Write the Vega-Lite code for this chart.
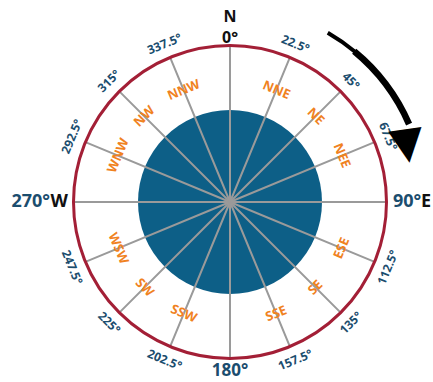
{
  "$schema": "https://vega.github.io/schema/vega-lite/v6.json",
  "width": 400,
  "height": 360,
  "padding": {"left": 30, "top": 22, "right": 3, "bottom": 0},
  "autosize": {"type": "none"},
  "background": "white",
  "config": {"view": {"stroke": null}},
  "datasets": {
    "dirs": [
      {"deg": 0, "dir": "N", "lab": "0°"},
      {"deg": 22.5, "dir": "NNE", "lab": "22.5°"},
      {"deg": 45, "dir": "NE", "lab": "45°"},
      {"deg": 67.5, "dir": "NEE", "lab": "67.5°"},
      {"deg": 90, "dir": "E", "lab": "90°"},
      {"deg": 112.5, "dir": "ESE", "lab": "112.5°"},
      {"deg": 135, "dir": "SE", "lab": "135°"},
      {"deg": 157.5, "dir": "SSE", "lab": "157.5°"},
      {"deg": 180, "dir": "S", "lab": "180°"},
      {"deg": 202.5, "dir": "SSW", "lab": "202.5°"},
      {"deg": 225, "dir": "SW", "lab": "225°"},
      {"deg": 247.5, "dir": "WSW", "lab": "247.5°"},
      {"deg": 270, "dir": "W", "lab": "270°"},
      {"deg": 292.5, "dir": "WNW", "lab": "292.5°"},
      {"deg": 315, "dir": "NW", "lab": "315°"},
      {"deg": 337.5, "dir": "NNW", "lab": "337.5°"}
    ],
    "shaft": [
      {"part": "tail", "from": 30, "to": 40},
      {"part": "body", "from": 39.5, "to": 66.5}
    ],
    "head": [{"part": "head", "at": 72, "glyph": "▼"}],
    "one": [{"part": "ring"}]
  },
  "layer": [
    {
      "data": {"name": "one"},
      "mark": {"type": "arc", "radius": 92, "theta": 0, "theta2": 6.283185307179586, "fill": "#0d5f87"},
      "encoding": {}
    },
    {
      "data": {"name": "dirs"},
      "mark": {"type": "arc", "radius": 156.5, "radius2": 0, "fill": null, "stroke": "#9a9a9a", "strokeWidth": 2},
      "encoding": {
        "theta": {"field": "deg", "type": "quantitative", "stack": null, "scale": {"domain": [0, 360], "range": [0, 6.283185307179586]}},
        "theta2": {"field": "deg"}
      }
    },
    {
      "data": {"name": "one"},
      "mark": {"type": "arc", "radius": 156.5, "theta": 0, "theta2": 6.283185307179586, "fill": null, "stroke": "#a31f36", "strokeWidth": 3},
      "encoding": {}
    },
    {
      "data": {"name": "dirs"},
      "transform": [
        {"filter": "datum.deg % 90 != 0"},
        {"calculate": "datum.deg <= 90 ? datum.deg : (datum.deg < 270 ? datum.deg - 180 : datum.deg - 360)", "as": "rot"}
      ],
      "mark": {"type": "text", "radius": 121, "fontSize": 13, "fontWeight": "bold", "font": "Open Sans", "color": "#f0821f", "align": "center", "baseline": "middle"},
      "encoding": {
        "theta": {"field": "deg", "type": "quantitative", "scale": {"domain": [0, 360], "range": [0, 6.283185307179586]}},
        "text": {"field": "dir"},
        "angle": {"field": "rot", "type": "quantitative", "scale": null}
      }
    },
    {
      "data": {"name": "dirs"},
      "transform": [
        {"filter": "datum.deg % 90 != 0"},
        {"calculate": "datum.deg <= 90 ? datum.deg : (datum.deg < 270 ? datum.deg - 180 : datum.deg - 360)", "as": "rot"}
      ],
      "mark": {"type": "text", "radius": 171, "fontSize": 12, "fontWeight": "bold", "font": "Open Sans", "color": "#1b4d6e", "align": "center", "baseline": "middle"},
      "encoding": {
        "theta": {"field": "deg", "type": "quantitative", "scale": {"domain": [0, 360], "range": [0, 6.283185307179586]}},
        "text": {"field": "lab"},
        "angle": {"field": "rot", "type": "quantitative", "scale": null}
      }
    },
    {
      "data": {"name": "dirs"},
      "transform": [{"filter": "datum.deg == 0"}],
      "mark": {"type": "text", "radius": 185, "fontSize": 16, "fontWeight": "bold", "font": "Open Sans", "color": "#111111", "align": "center", "baseline": "middle"},
      "encoding": {
        "theta": {"field": "deg", "type": "quantitative", "scale": {"domain": [0, 360], "range": [0, 6.283185307179586]}},
        "text": {"field": "dir"}
      }
    },
    {
      "data": {"name": "dirs"},
      "transform": [{"filter": "datum.deg == 0"}],
      "mark": {"type": "text", "radius": 164, "fontSize": 16, "fontWeight": "bold", "font": "Open Sans", "color": "#111111", "align": "center", "baseline": "middle"},
      "encoding": {
        "theta": {"field": "deg", "type": "quantitative", "scale": {"domain": [0, 360], "range": [0, 6.283185307179586]}},
        "text": {"field": "lab"}
      }
    },
    {
      "data": {"name": "dirs"},
      "transform": [{"filter": "datum.deg == 90"}],
      "mark": {"type": "text", "radius": 163, "fontSize": 18, "fontWeight": "bold", "font": "Open Sans", "color": "#1b4d6e", "align": "left", "baseline": "middle"},
      "encoding": {
        "theta": {"field": "deg", "type": "quantitative", "scale": {"domain": [0, 360], "range": [0, 6.283185307179586]}},
        "text": {"field": "lab"}
      }
    },
    {
      "data": {"name": "dirs"},
      "transform": [{"filter": "datum.deg == 90"}],
      "mark": {"type": "text", "radius": 191, "fontSize": 18, "fontWeight": "bold", "font": "Open Sans", "color": "#111111", "align": "left", "baseline": "middle"},
      "encoding": {
        "theta": {"field": "deg", "type": "quantitative", "scale": {"domain": [0, 360], "range": [0, 6.283185307179586]}},
        "text": {"field": "dir"}
      }
    },
    {
      "data": {"name": "dirs"},
      "transform": [{"filter": "datum.deg == 180"}],
      "mark": {"type": "text", "radius": 169, "fontSize": 17, "fontWeight": "bold", "font": "Open Sans", "color": "#1b4d6e", "align": "center", "baseline": "middle"},
      "encoding": {
        "theta": {"field": "deg", "type": "quantitative", "scale": {"domain": [0, 360], "range": [0, 6.283185307179586]}},
        "text": {"field": "lab"}
      }
    },
    {
      "data": {"name": "dirs"},
      "transform": [{"filter": "datum.deg == 270"}],
      "mark": {"type": "text", "radius": 180, "fontSize": 18, "fontWeight": "bold", "font": "Open Sans", "color": "#1b4d6e", "align": "right", "baseline": "middle"},
      "encoding": {
        "theta": {"field": "deg", "type": "quantitative", "scale": {"domain": [0, 360], "range": [0, 6.283185307179586]}},
        "text": {"field": "lab"}
      }
    },
    {
      "data": {"name": "dirs"},
      "transform": [{"filter": "datum.deg == 270"}],
      "mark": {"type": "text", "radius": 162, "fontSize": 18, "fontWeight": "bold", "font": "Open Sans", "color": "#111111", "align": "right", "baseline": "middle"},
      "encoding": {
        "theta": {"field": "deg", "type": "quantitative", "scale": {"domain": [0, 360], "range": [0, 6.283185307179586]}},
        "text": {"field": "dir"}
      }
    },
    {
      "data": {"name": "shaft"},
      "transform": [{"filter": "datum.part == 'tail'"}],
      "mark": {"type": "arc", "radius": 197.5, "radius2": 193.5, "fill": "#000000"},
      "encoding": {
        "theta": {"field": "from", "type": "quantitative", "stack": null, "scale": {"domain": [0, 360], "range": [0, 6.283185307179586]}},
        "theta2": {"field": "to"}
      }
    },
    {
      "data": {"name": "shaft"},
      "transform": [{"filter": "datum.part == 'body'"}],
      "mark": {"type": "arc", "radius": 198.5, "radius2": 192, "fill": "#000000"},
      "encoding": {
        "theta": {"field": "from", "type": "quantitative", "stack": null, "scale": {"domain": [0, 360], "range": [0, 6.283185307179586]}},
        "theta2": {"field": "to"}
      }
    },
    {
      "data": {"name": "head"},
      "mark": {"type": "text", "radius": 186, "fontSize": 44, "font": "DejaVu Sans", "color": "#000000", "align": "center", "baseline": "middle", "angle": 352},
      "encoding": {
        "theta": {"field": "at", "type": "quantitative", "scale": {"domain": [0, 360], "range": [0, 6.283185307179586]}},
        "text": {"field": "glyph"}
      }
    }
  ]
}
